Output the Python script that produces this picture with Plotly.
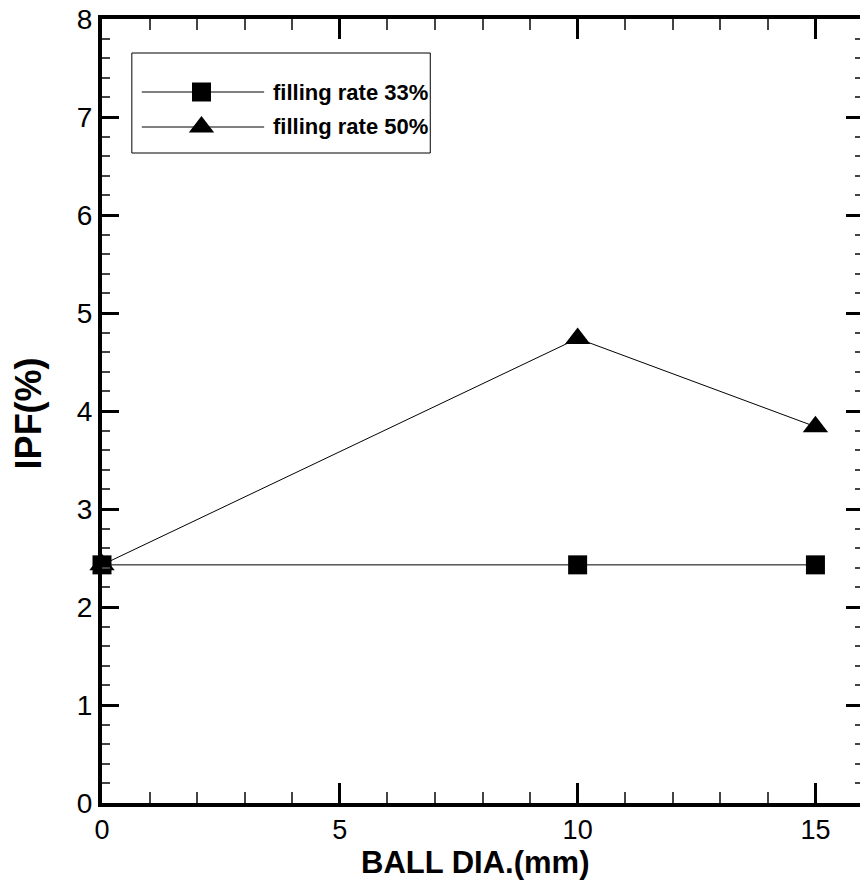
import plotly.graph_objects as go

# ---- data ----
ball_dia = [0, 10, 15]
ipf_33 = [2.43, 2.43, 2.43]
ipf_50 = [2.43, 4.74, 3.84]
series_names = ["filling rate 33%", "filling rate 50%"]
x_title = "BALL DIA.(mm)"
y_title = "IPF(%)"

# ---- layout constants ----
W, H = 867, 883
L, T, B, R = 102, 19, 80, 0
X_RANGE = [0, 16]
Y_RANGE = [0, 8]
FONT = "Liberation Sans, Arial, sans-serif"


def px_x(px):
    return X_RANGE[0] + (px - L) / (W - L - R) * (X_RANGE[1] - X_RANGE[0])


def py_y(py):
    return Y_RANGE[1] - (py - T) / (H - T - B) * (Y_RANGE[1] - Y_RANGE[0])


def paper_x(px):
    return (px - L) / (W - L - R)


def paper_y(py):
    return (H - B - py) / (H - T - B)


fig = go.Figure()
fig.add_trace(go.Scatter(x=ball_dia, y=ipf_33, mode="lines+markers", name=series_names[0],
                         line=dict(color="black", width=1),
                         marker=dict(symbol="square", size=19, color="black"),
                         showlegend=False, cliponaxis=False))
fig.add_trace(go.Scatter(x=ball_dia, y=ipf_50, mode="lines+markers", name=series_names[1],
                         line=dict(color="black", width=1),
                         marker=dict(symbol="triangle-up", size=22, color="black"),
                         showlegend=False, cliponaxis=False))

# ---- custom legend (box, sample lines, markers, text) ----
box = (132, 53, 432, 153)
rows_y = [92, 127]
line_x = (142, 265)
marker_x = 202
text_x = 272
symbols = ["square", "triangle-up"]
sym_sizes = [19, 22]
shapes = [dict(type="rect", xref="paper", yref="paper",
               x0=paper_x(box[0]), x1=paper_x(box[2]),
               y0=paper_y(box[3]), y1=paper_y(box[1]),
               line=dict(color="black", width=1), fillcolor="white", layer="below")]
annotations = []
for i, ry in enumerate(rows_y):
    shapes.append(dict(type="line", xref="paper", yref="paper",
                       x0=paper_x(line_x[0]), x1=paper_x(line_x[1]),
                       y0=paper_y(ry), y1=paper_y(ry),
                       line=dict(color="black", width=1)))
    fig.add_trace(go.Scatter(x=[px_x(marker_x)], y=[py_y(ry)], mode="markers",
                             marker=dict(symbol=symbols[i], size=sym_sizes[i], color="black"),
                             showlegend=False, hoverinfo="skip", cliponaxis=False))
    annotations.append(dict(xref="paper", yref="paper", x=paper_x(text_x), y=paper_y(ry),
                            xanchor="left", yanchor="middle", showarrow=False,
                            text=series_names[i],
                            font=dict(family=FONT, size=22, color="black", weight="bold")))

# axis titles
annotations.append(dict(xref="paper", yref="paper", x=paper_x(477), y=paper_y(863),
                        xanchor="center", yanchor="middle", showarrow=False, text=x_title,
                        font=dict(family=FONT, size=31, color="black", weight="bold")))
annotations.append(dict(xref="paper", yref="paper", x=paper_x(28), y=paper_y(413),
                        xanchor="center", yanchor="middle", showarrow=False, text=y_title,
                        textangle=-90,
                        font=dict(family=FONT, size=36, color="black", weight="bold")))

axis_common = dict(showline=True, linecolor="black", linewidth=4, mirror="allticks",
                   ticks="inside", tickcolor="black", showgrid=False, zeroline=False)

fig.update_layout(
    width=W, height=H,
    margin=dict(l=L, r=R, t=T, b=B, pad=0),
    paper_bgcolor="white", plot_bgcolor="white",
    xaxis=dict(range=X_RANGE, dtick=5, tick0=0, ticklen=20, tickwidth=3,
               tickfont=dict(family=FONT, size=27, color="black"),
               minor=dict(dtick=1, ticks="inside", ticklen=11, tickwidth=1.5, tickcolor="#444"),
               **axis_common),
    yaxis=dict(range=Y_RANGE, dtick=1, tick0=0, ticklen=17, tickwidth=3,
               tickfont=dict(family=FONT, size=28, color="black"),
               minor=dict(dtick=0.2, ticks="inside", ticklen=8, tickwidth=1.5, tickcolor="#444"),
               **axis_common),
    shapes=shapes,
    annotations=annotations,
    showlegend=False,
)

fig.write_html("out.html")
